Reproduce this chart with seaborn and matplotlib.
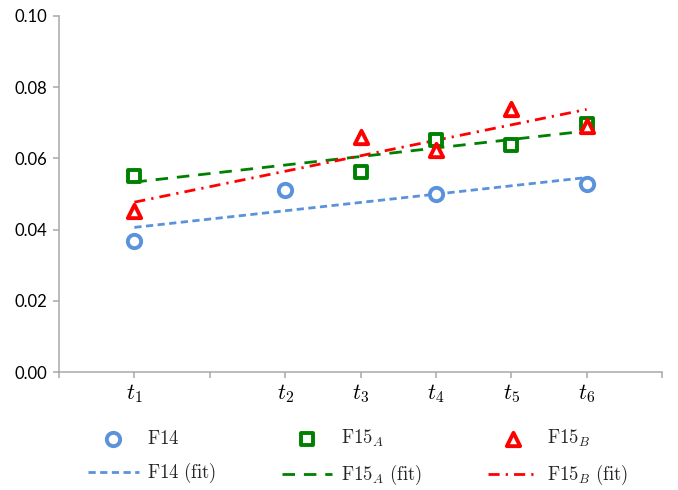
import matplotlib
matplotlib.use("Agg")
import matplotlib.pyplot as plt
import seaborn as sns
import numpy as np
import pandas as pd

# ---- data ----
tick_labels = ["", r"$t_1$", "", r"$t_2$", r"$t_3$", r"$t_4$", r"$t_5$", r"$t_6$", ""]
f14_x = [1, 3, 5, 7]
f14_y = [0.0368, 0.0510, 0.0500, 0.0527]
f15a_x = [1, 4, 5, 6, 7]
f15a_y = [0.0551, 0.0561, 0.0651, 0.0637, 0.0698]
f15b_x = [1, 4, 5, 6, 7]
f15b_y = [0.0452, 0.0661, 0.0623, 0.0739, 0.0692]
series_labels = [r"$\mathrm{F14}$", r"$\mathrm{F15}_{A}$", r"$\mathrm{F15}_{B}$"]
fit_labels = [r"$\mathrm{F14\ (fit)}$", r"$\mathrm{F15}_{A}\ \mathrm{(fit)}$", r"$\mathrm{F15}_{B}\ \mathrm{(fit)}$"]

sns.set_style("white")
plt.rcParams["font.family"] = ["Lato", "DejaVu Sans"]
plt.rcParams["mathtext.fontset"] = "cm"

blue = "#5A92DC"
green = "#008000"
red = "#FF0000"

fig = plt.figure(figsize=(6.78, 4.90), dpi=100)
ax = fig.add_axes([59 / 678, 1 - 372 / 490, (662 - 59) / 678, (372 - 16) / 490])

mk_lw = 2.8
s = 92
sns.scatterplot(x=f14_x, y=f14_y, ax=ax, marker="o", s=s, facecolor="white",
                edgecolor=blue, linewidth=mk_lw, label=series_labels[0], zorder=3)
sns.scatterplot(x=f15a_x, y=f15a_y, ax=ax, marker="s", s=s * 0.85, facecolor="white",
                edgecolor=green, linewidth=mk_lw, label=series_labels[1], zorder=3)
sns.scatterplot(x=f15b_x, y=f15b_y, ax=ax, marker="^", s=s, facecolor="white",
                edgecolor=red, linewidth=mk_lw, label=series_labels[2], zorder=4)

fit_lw = 2.0
fit_specs = [
    (f14_x, f14_y, blue, (0, (2.6, 1.6))),
    (f15a_x, f15a_y, green, (0, (4.5, 3.2))),
    (f15b_x, f15b_y, red, (0, (4.0, 2.2, 0.8, 2.2))),
]
fit_lines = []
for (xs, ys, c, ls), lab in zip(fit_specs, fit_labels):
    n0 = len(ax.lines)
    sns.regplot(x=xs, y=ys, ax=ax, scatter=False, ci=None, truncate=True,
                line_kws=dict(color=c, lw=fit_lw, linestyle=ls))
    ln = ax.lines[n0]
    ln.set_label(lab)
    fit_lines.append(ln)

ax.set_xlim(0, 8)
ax.set_ylim(0, 0.10)
ax.set_xticks(range(9))
ax.set_xticklabels(tick_labels, fontsize=16)
ax.set_yticks(np.arange(0, 0.101, 0.02))
ax.set_yticklabels([f"{v:.2f}" for v in np.arange(0, 0.101, 0.02)], fontsize=12)
ax.set_xlabel("")
ax.set_ylabel("")

spine_c = "#A8A8A8"
for side in ["top", "right"]:
    ax.spines[side].set_visible(False)
for side in ["left", "bottom"]:
    ax.spines[side].set_color(spine_c)
    ax.spines[side].set_linewidth(1.1)
ax.tick_params(axis="both", which="major", direction="out", length=4.5, width=1.1,
               color=spine_c, labelcolor="black", bottom=True, left=True)
ax.tick_params(axis="x", pad=3)
ax.tick_params(axis="y", pad=4)
ax.grid(False)

handles, labels = ax.get_legend_handles_labels()
lab2h = dict(zip(labels, handles))
for ln, lab in zip(fit_lines, fit_labels):
    lab2h[lab] = ln
order = [series_labels[0], fit_labels[0], series_labels[1], fit_labels[1], series_labels[2], fit_labels[2]]
leg_h = [lab2h[l] for l in order]
if ax.get_legend() is not None:
    ax.get_legend().remove()
fig.legend(leg_h, order, ncol=3, loc="center", bbox_to_anchor=(0.528, 0.066),
           frameon=False, fontsize=13.5, handlelength=2.7, handletextpad=0.45,
           columnspacing=3.5, labelspacing=0.75)

fig.savefig("out.png", dpi=100)
